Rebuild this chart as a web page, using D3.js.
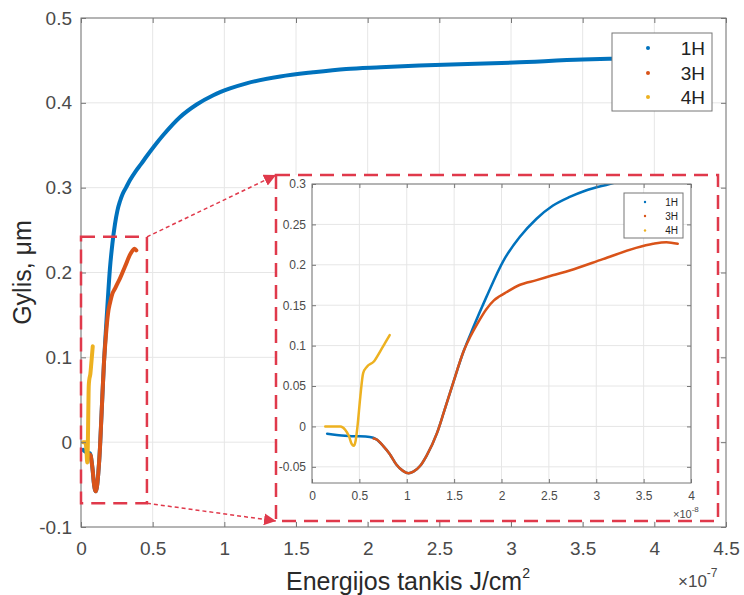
<!DOCTYPE html>
<html><head><meta charset="utf-8">
<script src="https://cdn.jsdelivr.net/npm/d3@7"></script>
<style>body{margin:0;background:#fff} text{font-family:"Liberation Sans",Arial,Helvetica,sans-serif}</style>
</head><body><svg id="c" width="744" height="595"></svg>
<script>
// ---- data (x in units of 1e-8 J/cm^2, y in µm) ----
const seriesNames = ["1H", "3H", "4H"];
const seriesColors = ["#0072BD", "#D95319", "#EDB120"];
const x1H = [0.16,0.26,0.44,0.61,0.68,0.75,0.82,0.89,0.96,1.02,1.07,1.14,1.21,1.32,1.39,1.49,1.60,1.70,1.84,2.02,2.19,2.37,2.54,2.72,2.89,3.14,3.42,3.8,4.2,4.58,5.16,5.74,6.9,8.07,9.23,10.4,11.55,13.9,16.2,18.5,20.9,23.6,30.2,35,37,41];
const y1H = [-0.009,-0.0107,-0.012,-0.013,-0.016,-0.024,-0.034,-0.047,-0.055,-0.058,-0.056,-0.049,-0.036,-0.008,0.017,0.054,0.093,0.122,0.160,0.205,0.234,0.257,0.273,0.284,0.292,0.300,0.309,0.319,0.328,0.337,0.350,0.362,0.383,0.398,0.409,0.417,0.423,0.431,0.436,0.440,0.442,0.444,0.4475,0.451,0.452,0.454];
const x3H = [0.65,0.68,0.75,0.82,0.89,0.96,1.02,1.07,1.14,1.21,1.32,1.39,1.49,1.60,1.67,1.74,1.84,1.92,1.98,2.05,2.19,2.37,2.54,2.72,3.07,3.42,3.60,3.74,3.86];
const y3H = [-0.015,-0.016,-0.024,-0.034,-0.047,-0.055,-0.058,-0.056,-0.049,-0.036,-0.008,0.017,0.054,0.093,0.111,0.126,0.145,0.156,0.161,0.166,0.175,0.181,0.187,0.193,0.207,0.221,0.226,0.228,0.226];
const x4H = [0.14,0.30,0.35,0.39,0.42,0.44,0.46,0.48,0.51,0.54,0.58,0.65,0.72,0.77,0.82];
const y4H = [0,0,-0.004,-0.012,-0.022,-0.024,-0.018,0,0.037,0.066,0.074,0.080,0.093,0.103,0.113];
const mainXTicks = [0,5,10,15,20,25,30,35,40,45];      // labelled ×1e-7
const mainYTicks = [-0.1,0,0.1,0.2,0.3,0.4,0.5];
const insetXTicks = [0,0.5,1,1.5,2,2.5,3,3.5,4];       // labelled ×1e-8
const insetYTicks = [-0.05,0,0.05,0.1,0.15,0.2,0.25,0.3];
const zoomBoxX = [0, 4.6];
const zoomBoxY = [-0.072, 0.242];

const series = [
  {name: seriesNames[0], color: seriesColors[0], pts: x1H.map((x,i)=>[x,y1H[i]])},
  {name: seriesNames[1], color: seriesColors[1], pts: x3H.map((x,i)=>[x,y3H[i]])},
  {name: seriesNames[2], color: seriesColors[2], pts: x4H.map((x,i)=>[x,y4H[i]])}
];

const svg = d3.select("#c");
const RED = "#e0394b", AX = "#767676", TX = "#4a4a4a", GRID = "#e6e6e6";
const fmt = v => String(+v.toFixed(3));

function drawAxes(g, x, y, xt, yt, xlab, ylab, o) {
  const [x0,x1] = x.range(), [y0,y1] = y.range();
  const clipId = o.id + "clip";
  g.append("clipPath").attr("id", clipId).append("rect")
    .attr("x", x0).attr("y", y1).attr("width", x1-x0).attr("height", y0-y1);
  g.append("rect").attr("x", x0).attr("y", y1).attr("width", x1-x0).attr("height", y0-y1).attr("fill", "#fff");
  g.append("g").selectAll("line").data(xt).join("line")
    .attr("x1", d=>x(d)).attr("x2", d=>x(d)).attr("y1", y0).attr("y2", y1).attr("stroke", GRID).attr("stroke-width", 1);
  g.append("g").selectAll("line").data(yt).join("line")
    .attr("y1", d=>y(d)).attr("y2", d=>y(d)).attr("x1", x0).attr("x2", x1).attr("stroke", GRID).attr("stroke-width", 1);
  const line = d3.line().x(d=>x(d[0])).y(d=>y(d[1])).curve(d3.curveMonotoneX);
  g.append("g").attr("clip-path", `url(#${clipId})`).selectAll("path").data(series).join("path")
    .attr("d", d=>line(d.pts)).attr("fill", "none").attr("stroke", d=>d.color)
    .attr("stroke-width", o.lw).attr("stroke-linejoin", "round").attr("stroke-linecap", "round");
  const styleAx = sel => { sel.select(".domain").remove(); sel.selectAll(".tick line").attr("stroke", AX);
    sel.selectAll("text").attr("fill", TX).attr("font-size", o.fs); };
  g.append("g").attr("transform", `translate(0,${y0})`)
    .call(d3.axisBottom(x).tickValues(xt).tickSize(-o.tl).tickPadding(o.xpad).tickFormat(xlab)).call(styleAx);
  g.append("g").attr("transform", `translate(${x0},0)`)
    .call(d3.axisLeft(y).tickValues(yt).tickSize(-o.tl).tickPadding(o.ypad).tickFormat(ylab)).call(styleAx);
  g.append("g").attr("transform", `translate(0,${y1})`)
    .call(d3.axisTop(x).tickValues(xt).tickSize(-o.tl).tickFormat("")).call(styleAx);
  g.append("g").attr("transform", `translate(${x1},0)`)
    .call(d3.axisRight(y).tickValues(yt).tickSize(-o.tl).tickFormat("")).call(styleAx);
  g.append("rect").attr("x", x0).attr("y", y1).attr("width", x1-x0).attr("height", y0-y1)
    .attr("fill", "none").attr("stroke", AX).attr("stroke-width", 1);
}

function legend(g, bx, by, bw, bh, dotX, txtX, rowY, fs, r) {
  g.append("rect").attr("x", bx).attr("y", by).attr("width", bw).attr("height", bh)
    .attr("fill", "#fff").attr("stroke", AX).attr("stroke-width", 1);
  series.forEach((s, i) => {
    g.append("circle").attr("cx", dotX).attr("cy", rowY[i]).attr("r", r).attr("fill", s.color);
    g.append("text").attr("x", txtX).attr("y", rowY[i]).attr("dy", "0.35em").attr("text-anchor", "end")
      .attr("font-size", fs).attr("fill", "#222").text(s.name);
  });
}

// ---- main axes ----
const mx = d3.scaleLinear().domain([0,45]).range([81,726]);
const my = d3.scaleLinear().domain([-0.1,0.5]).range([527,18]);
const gm = svg.append("g");
drawAxes(gm, mx, my, mainXTicks, mainYTicks, d=>fmt(d/10), d=>fmt(d),
  {id:"m", lw:4, fs:19, tl:5, xpad:15, ypad:9});
legend(gm, 612, 33, 100, 78, 648, 705, [48,73,97], 19, 2);

svg.append("text").attr("x", 408).attr("y", 590).attr("text-anchor", "middle").attr("font-size", 25).attr("fill", "#2a2a2a")
  .text("Energijos tankis J/cm").append("tspan").attr("font-size", 14).attr("dy", -12).text("2");
svg.append("text").attr("transform", "translate(31,272.5) rotate(-90)").attr("text-anchor", "middle")
  .attr("font-size", 25).attr("fill", "#2a2a2a").text("Gylis, μm");
const e7 = svg.append("text").attr("x", 678).attr("y", 587).attr("font-size", 17).attr("fill", TX);
e7.append("tspan").text("×10");
e7.append("tspan").attr("font-size", 12).attr("dy", -10).text("-7");

const zbx0 = mx(zoomBoxX[0]), zbx1 = mx(zoomBoxX[1]), zby0 = my(zoomBoxY[1]), zby1 = my(zoomBoxY[0]);
svg.append("rect").attr("x", zbx0).attr("y", zby0).attr("width", zbx1-zbx0).attr("height", zby1-zby0)
  .attr("fill", "none").attr("stroke", RED).attr("stroke-width", 2.5).attr("stroke-dasharray", "14,8");

// ---- inset ----
const P = {x0:276, y0:175, x1:718, y1:521};
const gi = svg.append("g");
gi.append("rect").attr("x", P.x0).attr("y", P.y0).attr("width", P.x1-P.x0).attr("height", P.y1-P.y0).attr("fill", "#fff");
const ix = d3.scaleLinear().domain([0,4]).range([312,691]);
const iy = d3.scaleLinear().domain([-0.07,0.3]).range([483,184]);
drawAxes(gi, ix, iy, insetXTicks, insetYTicks, d=>fmt(d), d=>fmt(d),
  {id:"i", lw:2.5, fs:12, tl:4, xpad:8, ypad:6});
legend(gi, 624, 193, 59, 45, 645, 678, [202,216,230.5], 10, 1.2);
const e8 = gi.append("text").attr("x", 673).attr("y", 518).attr("font-size", 11).attr("fill", TX);
e8.append("tspan").text("×10");
e8.append("tspan").attr("font-size", 8).attr("dy", -6).text("-8");
gi.append("rect").attr("x", P.x0).attr("y", P.y0).attr("width", P.x1-P.x0).attr("height", P.y1-P.y0)
  .attr("fill", "none").attr("stroke", RED).attr("stroke-width", 2.5).attr("stroke-dasharray", "14,8");

const defs = svg.append("defs");
defs.append("marker").attr("id", "ah").attr("viewBox", "0 0 10 10").attr("refX", 10).attr("refY", 5)
  .attr("markerWidth", 12).attr("markerHeight", 12).attr("markerUnits", "userSpaceOnUse").attr("orient", "auto")
  .append("path").attr("d", "M0,0 L10,5 L0,10 Z").attr("fill", RED);
[[zbx1, zby0, P.x0, P.y0], [zbx1, zby1, P.x0, P.y1]].forEach(a => {
  svg.append("line").attr("x1", a[0]).attr("y1", a[1]).attr("x2", a[2]).attr("y2", a[3])
    .attr("stroke", RED).attr("stroke-width", 1.5).attr("stroke-dasharray", "4,3").attr("marker-end", "url(#ah)");
});
</script></body></html>
